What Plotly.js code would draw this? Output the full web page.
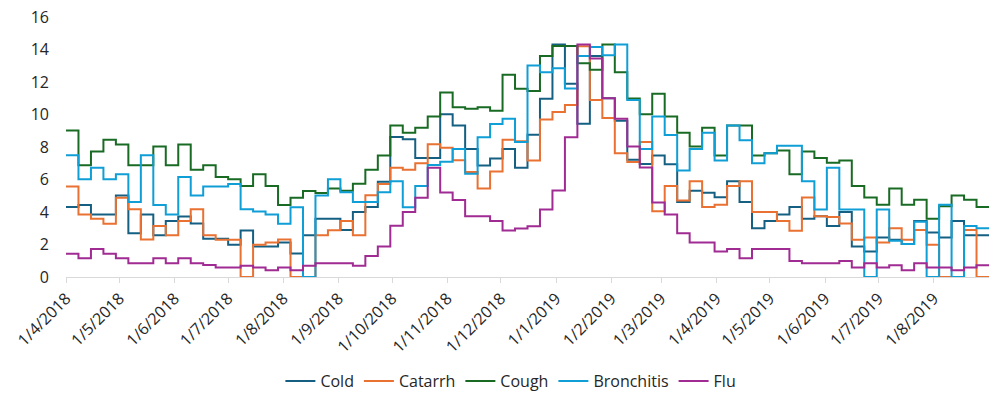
<!DOCTYPE html>
<html>
<head>
<meta charset="utf-8">
<script src="https://cdn.plot.ly/plotly-3.0.1.min.js"></script>
<style>
  html, body { margin: 0; padding: 0; background: #ffffff; }
  #chart { width: 991px; height: 400px; }
</style>
</head>
<body>
<div id="chart"></div>
<script>
// Weekly series, first week starting 1 April 2018 (74 weeks)
const startDate = '2018-04-01';
const endDate = '2019-09-01';

const cold = [4.31,4.43,3.84,3.84,5.01,2.70,3.84,2.57,3.44,3.72,
              3.30,2.35,2.35,1.99,2.86,1.87,1.87,2.13,1.45,2.57,
              3.58,3.58,2.90,4.00,4.31,5.86,8.62,8.47,7.33,7.33,
              10.02,9.32,7.87,6.86,7.30,7.87,6.72,8.76,10.97,14.31,
              11.90,9.43,13.60,11.00,9.62,7.21,6.96,7.47,6.94,4.61,
              5.31,5.19,4.91,5.90,4.61,3.00,3.44,3.84,4.31,3.58,
              3.74,3.14,4.00,1.87,1.57,2.43,2.29,2.03,3.44,2.74,
              2.43,3.44,2.57,2.57];

const catarrh = [5.57,3.84,3.58,3.28,4.87,4.17,2.31,3.14,2.57,3.44,
                 4.17,2.57,2.29,2.29,0.00,1.99,2.13,2.31,0.00,0.00,
                 2.57,2.87,3.44,2.57,5.03,5.72,6.72,6.60,7.00,8.17,
                 7.95,7.19,6.46,5.45,6.50,8.44,8.35,7.17,9.70,10.16,
                 10.59,14.20,10.89,9.78,7.61,7.07,8.31,4.05,5.60,4.71,
                 5.90,4.31,4.45,5.60,5.90,4.00,4.00,3.44,2.84,4.89,
                 3.74,3.70,3.30,2.29,2.43,2.13,3.00,2.29,2.90,1.99,
                 0.00,0.00,2.90,0.00];

const cough = [9.02,6.88,7.73,8.45,8.15,6.88,6.88,8.03,6.88,8.15,
               6.60,6.88,6.16,6.02,5.60,6.32,5.60,4.43,4.87,5.29,
               5.17,5.45,5.31,5.74,6.60,7.47,9.32,8.88,9.18,9.88,
               11.35,10.45,10.35,10.45,10.23,12.44,11.59,11.45,13.60,14.21,
               14.21,13.16,12.76,14.31,12.60,10.99,10.02,11.27,9.88,8.88,
               8.03,9.18,7.47,9.32,9.32,7.47,7.61,7.78,6.32,7.73,
               7.33,7.03,7.17,5.60,4.89,4.45,5.45,4.45,4.75,3.58,
               4.35,5.01,4.75,4.31];

const bronchitis = [7.49,6.02,6.72,6.02,6.32,4.61,7.49,4.43,3.84,6.16,
                    5.01,5.57,5.57,5.72,4.17,4.03,3.85,3.28,4.29,0.00,
                    5.01,6.02,5.21,4.61,4.61,5.21,5.90,4.29,5.60,6.90,
                    7.10,7.87,6.36,8.60,9.42,9.74,8.31,13.02,12.60,12.85,
                    11.60,13.60,14.15,13.65,14.31,10.90,7.87,9.88,8.74,6.56,
                    7.87,8.88,7.17,9.32,8.41,7.00,7.61,8.07,8.07,5.90,
                    4.15,6.72,4.15,4.15,0.00,4.15,2.23,2.03,3.40,0.00,
                    4.45,0.00,3.14,3.00];

const flu = [1.43,1.15,1.73,1.43,1.15,0.85,0.85,1.15,0.85,1.15,
             0.85,0.74,0.58,0.58,0.70,0.58,0.42,0.58,0.42,0.70,
             0.85,0.85,0.85,0.70,1.29,1.87,3.15,4.00,4.87,6.72,
             5.20,4.74,3.74,3.74,3.44,2.86,2.99,3.12,4.15,5.33,
             8.60,14.31,13.45,11.00,9.74,8.03,6.74,4.59,3.84,2.70,
             2.13,2.13,1.57,1.73,1.15,1.73,1.73,1.73,0.99,0.85,
             0.85,0.85,0.99,0.58,0.85,0.58,0.72,0.42,0.85,0.58,
             0.58,0.42,0.58,0.72];

const seriesNames = ['Cold', 'Catarrh', 'Cough', 'Bronchitis', 'Flu'];
const seriesColors = ['#156082', '#E97132', '#196B24', '#0F9ED5', '#A02B93'];

const tickDates = ['2018-04-01','2018-05-01','2018-06-01','2018-07-01','2018-08-01','2018-09-01',
                   '2018-10-01','2018-11-01','2018-12-01','2019-01-01','2019-02-01','2019-03-01',
                   '2019-04-01','2019-05-01','2019-06-01','2019-07-01','2019-08-01'];
const tickLabels = ['1/4/2018','1/5/2018','1/6/2018','1/7/2018','1/8/2018','1/9/2018',
                    '1/10/2018','1/11/2018','1/12/2018','1/1/2019','1/2/2019','1/3/2019',
                    '1/4/2019','1/5/2019','1/6/2019','1/7/2019','1/8/2019'];

// week start dates (plus closing date for the final step)
function weekDates(n) {
  const t0 = Date.parse(startDate + 'T00:00:00Z');
  const out = [];
  for (let i = 0; i <= n; i++) {
    out.push(new Date(t0 + i * 7 * 86400000).toISOString().slice(0, 10));
  }
  return out;
}

const allSeries = [cold, catarrh, cough, bronchitis, flu];
const traces = allSeries.map((vals, k) => ({
  type: 'scatter',
  mode: 'lines',
  name: seriesNames[k],
  x: weekDates(vals.length),
  y: vals.concat([vals[vals.length - 1]]),
  line: { shape: 'hv', color: seriesColors[k], width: 2 },
  hoverinfo: 'x+y+name'
}));

const baseFont = { family: '"Open Sans", "Liberation Sans", sans-serif', size: 16, color: '#262626' };

const layout = {
  width: 991,
  height: 400,
  margin: { l: 66, r: 2, t: 17, b: 118 },
  paper_bgcolor: '#ffffff',
  plot_bgcolor: '#ffffff',
  font: baseFont,
  showlegend: true,
  legend: {
    orientation: 'h',
    x: 0.482,
    xanchor: 'center',
    y: -0.40,
    yanchor: 'middle',
    font: baseFont,
    itemwidth: 30,
    tracegroupgap: 0
  },
  xaxis: {
    type: 'date',
    range: [startDate, endDate],
    tickmode: 'array',
    tickvals: tickDates,
    ticktext: tickLabels,
    tickangle: -45,
    ticks: 'outside',
    ticklen: 5,
    tickcolor: '#D9D9D9',
    showline: true,
    linecolor: '#D9D9D9',
    linewidth: 1,
    showgrid: false,
    zeroline: false,
    tickfont: baseFont
  },
  yaxis: {
    range: [0, 16],
    tick0: 0,
    dtick: 2,
    showgrid: false,
    zeroline: false,
    showline: false,
    ticks: '',
    ticklabelstandoff: 16,
    tickfont: baseFont
  }
};

Plotly.newPlot('chart', traces, layout, { displayModeBar: false, staticPlot: true });
</script>
</body>
</html>
